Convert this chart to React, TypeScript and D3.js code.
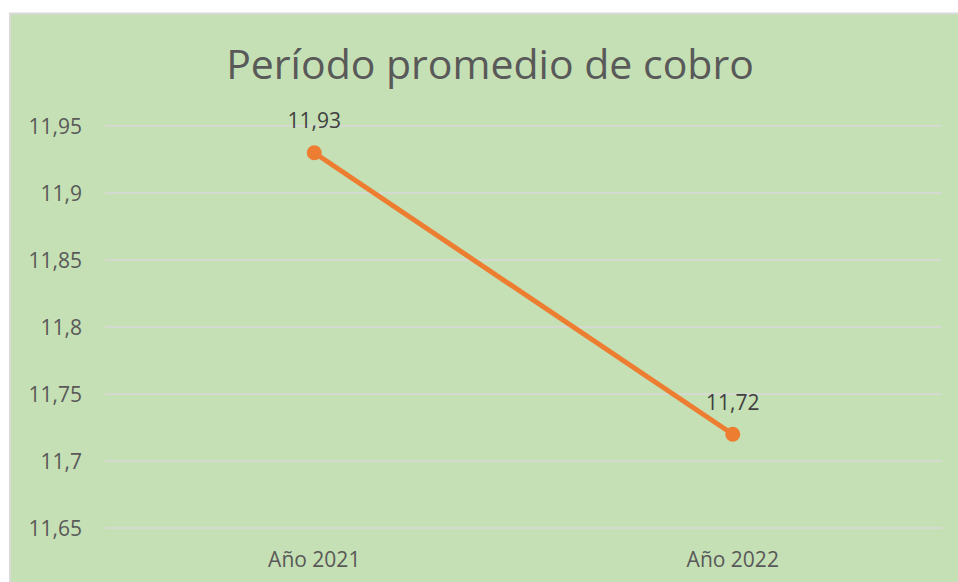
import React from "react";
import * as d3 from "d3";

const categories = ["Año 2021", "Año 2022"];
const values = [11.93, 11.72];
const valueLabels = ["11,93", "11,72"];
const yTicks = [11.65, 11.7, 11.75, 11.8, 11.85, 11.9, 11.95];
const yTickLabels = ["11,65", "11,7", "11,75", "11,8", "11,85", "11,9", "11,95"];
const title = "Período promedio de cobro";

export default function App() {
  const W = 958;
  const H = 582;
  const plot = { left: 105, right: 942, top: 126, bottom: 528 };
  const x = d3
    .scaleBand<string>()
    .domain(categories)
    .range([plot.left, plot.right])
    .paddingInner(0)
    .paddingOuter(0);
  const y = d3.scaleLinear().domain([11.65, 11.95]).range([plot.bottom, plot.top]);
  const cx = (c: string) => (x(c) as number) + x.bandwidth() / 2;
  const line = d3
    .line<number>()
    .x((_, i) => cx(categories[i]))
    .y((d) => y(d));
  const font = "'Open Sans', sans-serif";

  return (
    <div style={{ position: "absolute", left: 0, top: 0, width: W, height: H, overflow: "hidden" }}>
      <svg width={W} height={H} style={{ display: "block" }}>
        <rect x={0} y={0} width={W} height={H} fill="#ffffff" />
        <rect x={10} y={13.5} width={1000} height={1000} fill="#C5E0B4" stroke="#D9D9D9" strokeWidth={2} />
        <text
          x={490}
          y={79}
          textAnchor="middle"
          fontFamily={font}
          fontSize={41}
          fill="#595959"
        >
          {title}
        </text>
        {yTicks.map((t, i) => (
          <g key={t}>
            <line x1={plot.left} x2={plot.right} y1={y(t)} y2={y(t)} stroke="#D9D9D9" strokeWidth={1.5} />
            <text
              x={82}
              y={y(t)}
              dy="0.36em"
              textAnchor="end"
              fontFamily={font}
              fontSize={21}
              fill="#595959"
            >
              {yTickLabels[i]}
            </text>
          </g>
        ))}
        {categories.map((c) => (
          <text key={c} x={cx(c)} y={567} textAnchor="middle" fontFamily={font} fontSize={21} fill="#595959">
            {c}
          </text>
        ))}
        <path d={line(values) || ""} fill="none" stroke="#ED7D31" strokeWidth={5} strokeLinecap="round" />
        {values.map((v, i) => (
          <g key={i}>
            <circle cx={cx(categories[i])} cy={y(v)} r={7.5} fill="#ED7D31" />
            <text
              x={cx(categories[i])}
              y={y(v) - 24.5}
              textAnchor="middle"
              fontFamily={font}
              fontSize={21}
              fill="#404040"
            >
              {valueLabels[i]}
            </text>
          </g>
        ))}
      </svg>
    </div>
  );
}
